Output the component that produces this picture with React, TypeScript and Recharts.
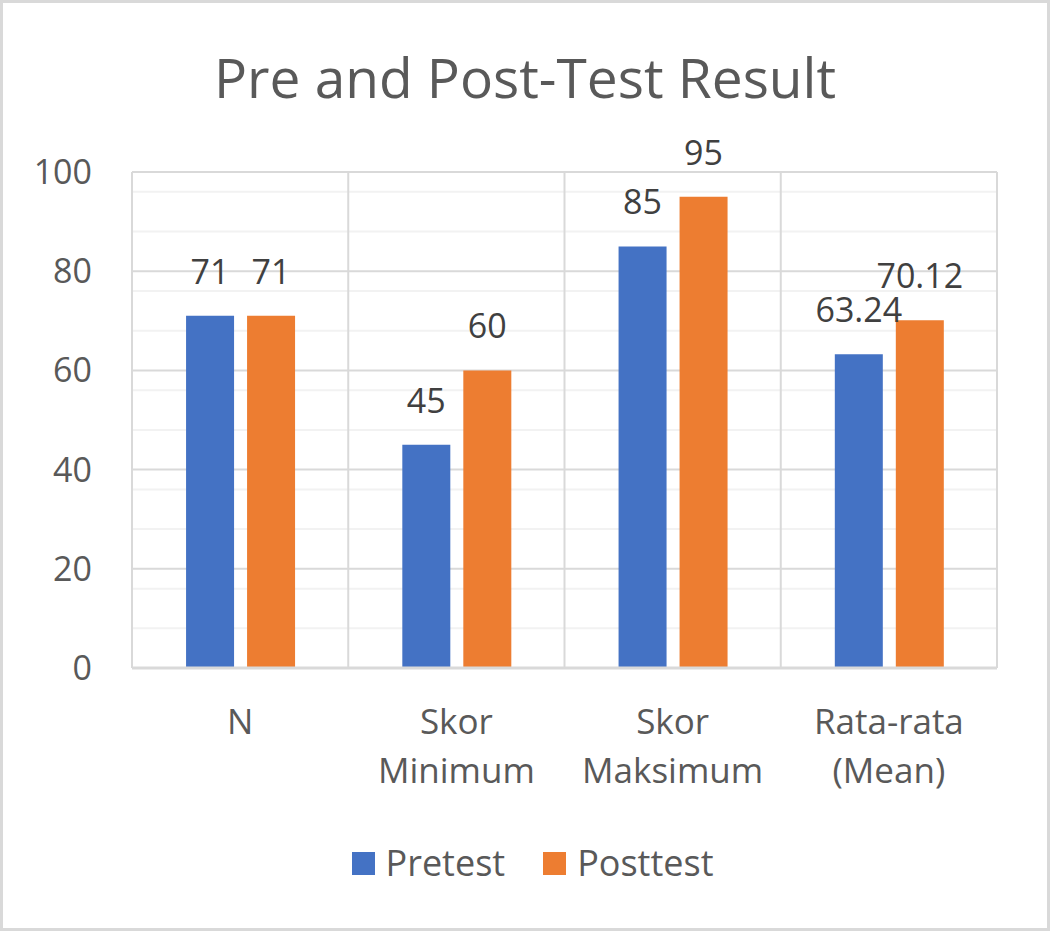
import { Bar, BarChart, CartesianGrid, LabelList, Legend, XAxis, YAxis } from "recharts";

const categories = ["N", "Skor Minimum", "Skor Maksimum", "Rata-rata (Mean)"];
const pretest = [71, 45, 85, 63.24];
const posttest = [71, 60, 95, 70.12];
const seriesNames = ["Pretest", "Posttest"];
const yTicks = [0, 20, 40, 60, 80, 100];
const minorTicks = [4, 8, 12, 16, 24, 28, 32, 36, 44, 48, 52, 56, 64, 68, 72, 76, 84, 88, 92, 96];

const data = categories.map((name, i) => ({ name, Pretest: pretest[i], Posttest: posttest[i] }));

const FONT = "'Open Sans', 'Noto Sans', sans-serif";
const GREY = "#595959";

function CategoryTick({ x, y, payload }: any) {
  const lines = String(payload.value).split(" ");
  return (
    <text x={x} y={y} textAnchor="middle" fill={GREY} fontSize={35} fontFamily={FONT}>
      {lines.map((line, i) => (
        <tspan key={i} x={x} dy={i === 0 ? 58 : 49}>
          {line}
        </tspan>
      ))}
    </text>
  );
}

function LegendContent({ payload }: any) {
  const items = [...(payload || [])].sort(
    (a: any, b: any) => seriesNames.indexOf(a.value) - seriesNames.indexOf(b.value)
  );
  return (
    <div
      style={{
        display: "flex",
        justifyContent: "center",
        gap: 38,
        paddingTop: 10,
        paddingLeft: 68,
        fontFamily: FONT,
      }}
    >
      {items.map((item: any) => (
        <div key={item.value} style={{ display: "flex", alignItems: "center", gap: 11 }}>
          <span style={{ width: 23, height: 23, background: item.color, display: "inline-block" }} />
          <span style={{ fontSize: 36, color: GREY, lineHeight: "44px" }}>{item.value}</span>
        </div>
      ))}
    </div>
  );
}

export default function App() {
  return (
    <div
      style={{
        position: "absolute",
        left: 0,
        top: 0,
        width: 1050,
        height: 931,
        boxSizing: "border-box",
        border: "3px solid #d9d9d9",
        background: "#fff",
        fontFamily: FONT,
      }}
    >
      <div
        style={{
          position: "absolute",
          left: 0,
          right: 0,
          top: 36,
          textAlign: "center",
          fontSize: 55,
          color: GREY,
          lineHeight: "76px",
        }}
      >
        Pre and Post-Test Result
      </div>
      <div style={{ position: "absolute", left: -3, top: -3 }}>
        <BarChart
          width={1050}
          height={931}
          data={data}
          margin={{ top: 172, right: 53, left: 0, bottom: 0 }}
          barCategoryGap="25%"
          barGap={13}
        >
          <CartesianGrid
            horizontalValues={minorTicks}
            vertical={false}
            stroke="#f2f2f2"
            strokeWidth={2}
          />
          <CartesianGrid
            horizontalValues={yTicks}
            verticalCoordinatesGenerator={({ offset }: any) =>
              [0, 1, 2, 3, 4].map((i) => offset.left + (i * offset.width) / 4)
            }
            stroke="#d9d9d9"
            strokeWidth={2}
          />
          <XAxis
            dataKey="name"
            axisLine={{ stroke: "#d9d9d9", strokeWidth: 3 }}
            tickLine={false}
            height={163}
            interval={0}
            tick={<CategoryTick />}
          />
          <YAxis
            width={132}
            domain={[0, 100]}
            ticks={yTicks}
            axisLine={false}
            tickLine={false}
            tickSize={0}
            tickMargin={40}
            tick={{ fill: GREY, fontSize: 34, fontFamily: FONT }}
          />
          <Legend verticalAlign="bottom" height={100} content={<LegendContent />} />
          <Bar dataKey="Pretest" fill="#4472C4" isAnimationActive={false}>
            <LabelList dataKey="Pretest" position="top" offset={32} fill="#404040" fontSize={34} fontFamily={FONT} />
          </Bar>
          <Bar dataKey="Posttest" fill="#ED7D31" isAnimationActive={false}>
            <LabelList dataKey="Posttest" position="top" offset={32} fill="#404040" fontSize={34} fontFamily={FONT} />
          </Bar>
        </BarChart>
      </div>
    </div>
  );
}
